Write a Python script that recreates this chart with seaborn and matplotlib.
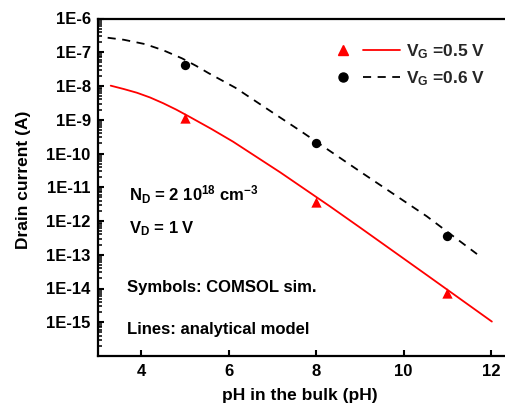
import numpy as np
import matplotlib
matplotlib.use("Agg")
import matplotlib.pyplot as plt
from matplotlib.lines import Line2D
from matplotlib.legend_handler import HandlerTuple
from matplotlib.ticker import LogLocator, FixedLocator, FixedFormatter, NullFormatter
import seaborn as sns

# ---- data ----
line05_ph = [3.3, 3.6, 3.9, 4.2, 4.5, 4.8, 5.1, 5.6, 6.1, 7.18, 8.32, 9.0, 10.53, 12.02]
line05_log = [-7.99, -8.09, -8.20, -8.34, -8.51, -8.70, -8.91, -9.27, -9.65,
              -10.56, -11.57, -12.19, -13.60, -14.98]
line06_ph = [3.23, 3.6, 4.09, 4.5, 4.93, 5.25, 5.54, 6.15, 7.02, 7.64, 8.24, 9.08, 10.53, 11.68]
line06_log = [-6.57, -6.63, -6.76, -6.94, -7.18, -7.40, -7.62, -8.05, -8.80, -9.33,
              -9.86, -10.60, -11.86, -12.98]
sim_ph = [5, 8, 11]
sim05_current = [1.1e-9, 3.7e-12, 7.6e-15]
sim06_current = [4.2e-8, 2.0e-10, 3.6e-13]
ytick_values = [1e-6, 1e-7, 1e-8, 1e-9, 1e-10, 1e-11, 1e-12, 1e-13, 1e-14, 1e-15]
ytick_labels = ["1E-6", "1E-7", "1E-8", "1E-9", "1E-10", "1E-11", "1E-12", "1E-13", "1E-14", "1E-15"]
xtick_values = [4, 6, 8, 10, 12]
legend_labels = [r"V$_\mathregular{G}$ =0.5 V", r"V$_\mathregular{G}$ =0.6 V"]

line05_current = [10 ** v for v in line05_log]
line06_current = [10 ** v for v in line06_log]

sns.set_theme(style="ticks")
plt.rcParams["font.family"] = ["Liberation Sans", "DejaVu Sans"]
plt.rcParams["font.weight"] = "bold"
plt.rcParams["axes.labelweight"] = "bold"
plt.rcParams["mathtext.fontset"] = "custom"
plt.rcParams["mathtext.rm"] = "Liberation Sans:bold"
plt.rcParams["mathtext.bf"] = "Liberation Sans:bold"
plt.rcParams["mathtext.it"] = "Liberation Sans:bold"

W, H = 505, 408
fig = plt.figure(figsize=(W / 100, H / 100), dpi=100)
fig.patch.set_facecolor("white")

# axes in pixel geometry (right part of the axes runs beyond the image)
left_px, right_px, top_px, bottom_px = 97.6, 534.7, 18.5, 356.0
ax = fig.add_axes([left_px / W, 1 - bottom_px / H,
                   (right_px - left_px) / W, (bottom_px - top_px) / H])
ax.set_facecolor("white")

sns.lineplot(x=line05_ph, y=line05_current, ax=ax, color="#ff0000", lw=1.3,
             sort=False, estimator=None)
sns.lineplot(x=line06_ph, y=line06_current, ax=ax, color="black", lw=1.3,
             linestyle=(0, (4.5, 3.6)), sort=False, estimator=None)
sns.scatterplot(x=sim_ph, y=sim05_current, ax=ax, marker="^", s=55,
                color="#ff0000", edgecolor="#ff0000", linewidth=0, zorder=5)
sns.scatterplot(x=sim_ph, y=sim06_current, ax=ax, marker="o", s=45,
                color="black", edgecolor="black", linewidth=0, zorder=5)

ax.set_yscale("log")
ax.set_xlim(3, 13)
ax.set_ylim(1e-16, 1e-6)

ax.yaxis.set_major_locator(FixedLocator(ytick_values))
ax.yaxis.set_major_formatter(FixedFormatter(ytick_labels))
ax.yaxis.set_minor_locator(LogLocator(base=10, subs=np.arange(2, 10), numticks=30))
ax.yaxis.set_minor_formatter(NullFormatter())
ax.xaxis.set_major_locator(FixedLocator(xtick_values))
ax.set_xticklabels([str(v) for v in xtick_values])

for side in ["left", "bottom", "top", "right"]:
    ax.spines[side].set_visible(True)
    ax.spines[side].set_linewidth(1.6)
    ax.spines[side].set_color("black")
    ax.spines[side].set_zorder(10)

ax.tick_params(axis="both", which="major", direction="in", length=4.5, width=1.5,
               labelsize=12, color="black", labelcolor="black")
ax.tick_params(axis="y", which="major", pad=5)
ax.tick_params(axis="x", which="major", pad=6)
ax.tick_params(axis="y", which="minor", direction="in", length=2.6, width=1.1, color="black")
ax.tick_params(top=False, right=False, which="both")
for lab in ax.get_xticklabels() + ax.get_yticklabels():
    lab.set_fontweight("bold")

ax_w = right_px - left_px
ax_h = bottom_px - top_px
ax.set_xlabel("pH in the bulk (pH)", fontsize=12.5, fontweight="bold", color="black")
ax.xaxis.set_label_coords((300 - left_px) / ax_w, -(400 - bottom_px) / ax_h)
ax.xaxis.label.set_va("baseline")
ax.set_ylabel("Drain current (A)", fontsize=12.5, fontweight="bold", color="black")
ax.yaxis.label.set_va("center")
ax.yaxis.set_label_coords((24 - left_px) / ax_w, (bottom_px - 180) / ax_h)

# annotations
def ftext(xp, yp, s, fs=12):
    fig.text(xp / W, 1 - yp / H, s, fontsize=fs, fontweight="bold",
             ha="left", va="baseline", color="black")

ftext(129, 200.7, r"N$_\mathregular{D}$ = 2 10$^{\mathregular{18}}$ cm$^{\mathregular{-3}}$")
ftext(129, 233.3, r"V$_\mathregular{D}$ = 1 V")
ftext(127, 292, "Symbols: COMSOL sim.")
ftext(127, 334, "Lines: analytical model")

# legend
h1 = (Line2D([], [], color="#ff0000", marker="^", linestyle="none", markersize=7.5),
      Line2D([], [], color="#ff0000", lw=1.3))
h2 = (Line2D([], [], color="black", marker="o", linestyle="none", markersize=6.5),
      Line2D([], [], color="black", lw=1.3, linestyle=(0, (4.5, 3.6))))
leg = fig.legend([h1, h2], legend_labels,
                 handler_map={tuple: HandlerTuple(ndivide=None, pad=0.1)},
                 loc="upper left", bbox_to_anchor=(324 / W, 1 - 42.5 / H),
                 frameon=False, fontsize=12.5, handlelength=4.4,
                 handletextpad=0.35, labelspacing=0.45, borderpad=0, borderaxespad=0)
for t in leg.get_texts():
    t.set_fontweight("bold")

fig.savefig("out.png", dpi=100, facecolor="white")
